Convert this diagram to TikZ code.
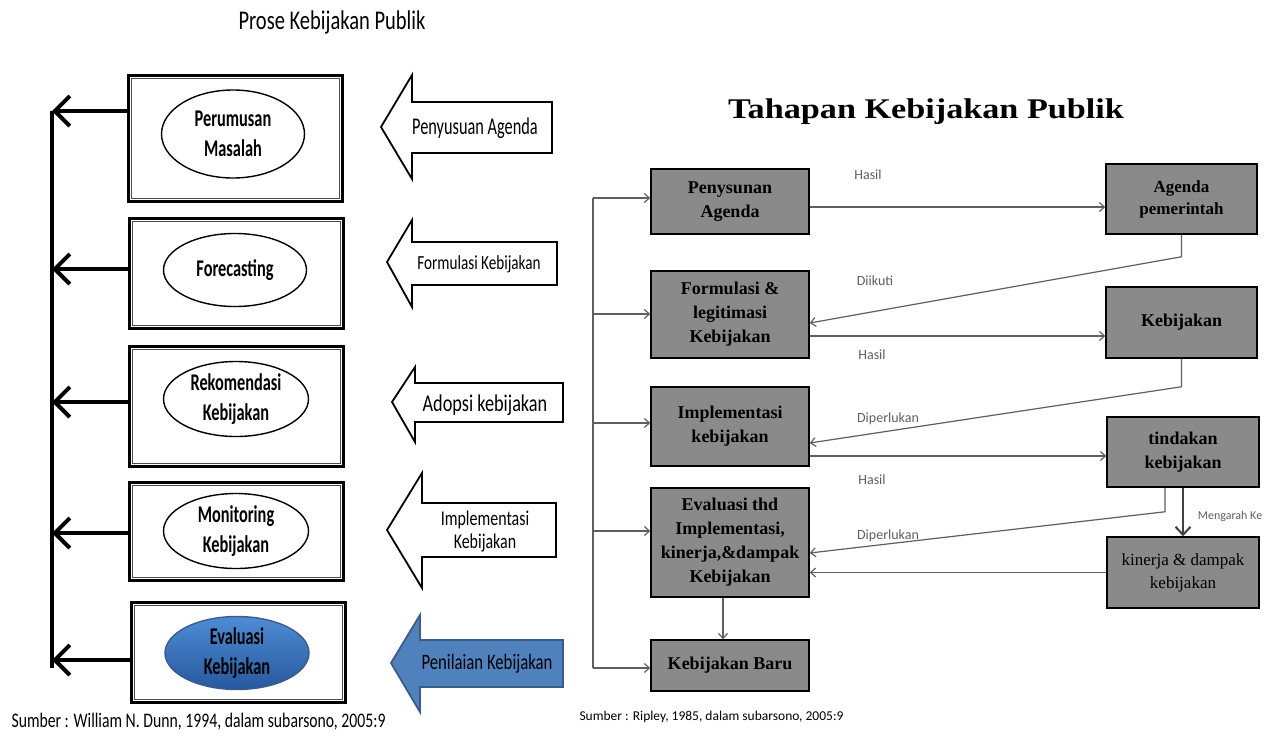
\documentclass[tikz,border=0pt]{standalone}
\usepackage{fontspec}
\setmainfont{Liberation Serif}
\newfontfamily\lsans[FakeStretch=0.76]{Carlito}
\newfontfamily\lcond[FakeStretch=0.68]{Carlito}
\newfontfamily\lsansn{Carlito}
\newfontfamily\rtitle[FakeStretch=1.2]{Liberation Serif}
\usetikzlibrary{arrows.meta,shapes.geometric,calc}
\definecolor{boxgray}{RGB}{138,138,138}
\definecolor{lgray}{RGB}{95,95,95}
\definecolor{blueA}{RGB}{79,129,189}
\definecolor{blueB}{RGB}{56,93,138}
\definecolor{blueT}{RGB}{78,140,212}
\definecolor{blueD}{RGB}{38,88,158}
\begin{document}
\begin{tikzpicture}[x=1pt,y=-1pt,
 frame/.style={draw,line width=3pt,minimum width=214pt,inner sep=0pt},
 oval/.style={ellipse,draw,line width=1.4pt,fill=white,inner sep=0pt,align=center,font=\lcond\bfseries\fontsize{24}{30}\selectfont},
 bigarr/.style={line width=3.5pt,-{Straight Barb[length=15pt,width=30pt,line width=4pt]}},
 blockarr/.style={draw,line width=1.8pt,fill=white,line join=miter},
 atext/.style={font=\lsans\fontsize{20}{22}\selectfont,align=center},
 gbox/.style={draw,line width=1.5pt,fill=boxgray,align=center,inner sep=0pt,font=\bfseries\fontsize{18}{24}\selectfont},
 conn/.style={draw=lgray,line width=1.2pt,-{Straight Barb[length=5pt,width=9pt]}},
 lbl/.style={font=\lsansn\fontsize{14}{16}\selectfont,text=lgray}
]
\useasboundingbox[fill=white] (0,0) rectangle (1268,736);

% ---------------- Left diagram ----------------
\node[font=\lsans\fontsize{27}{30}\selectfont] (t1) at (332,22) {Prose Kebijakan Publik};

\node[frame,minimum height=126pt] (b1) at (235,138) {};
\node[frame,minimum height=110pt] (b2) at (236,273) {};
\node[frame,minimum height=120pt] (b3) at (236,406) {};
\node[frame,minimum height=98pt]  (b4) at (236,531) {};
\node[frame,minimum height=100pt] (b5) at (238,652) {};
\foreach \b in {b1,b2,b3,b4,b5}{
  \draw[line width=1pt,black!70] ([shift={(4.5,4.5)}]\b.north west) rectangle ([shift={(-4.5,-4.5)}]\b.south east);
}

\node[oval,minimum width=143pt,minimum height=88pt] (e1) at (233,134) {Perumusan\\Masalah};
\node[oval,minimum width=143pt,minimum height=73pt] (e2) at (235,270) {Forecasting};
\node[oval,minimum width=145pt,minimum height=75pt] (e3) at (236,399) {Rekomendasi\\Kebijakan};
\node[oval,minimum width=145pt,minimum height=75pt] (e4) at (236,531) {Monitoring\\Kebijakan};
\node[oval,minimum width=144pt,minimum height=73pt,draw=blueB,top color=blueT,bottom color=blueD] (e5) at (237,653) {Evaluasi\\Kebijakan};

\coordinate (v1) at (52,111);
\coordinate (v2) at (52,269);
\coordinate (v3) at (52,402);
\coordinate (v4) at (52,533);
\coordinate (v5) at (52,660);
\coordinate (vb) at (52,668);
\draw[line width=3.5pt] (v1) -- (vb);
\draw[bigarr] (b1.west |- v1) -- (v1);
\draw[bigarr] (b2.west |- v2) -- (v2);
\draw[bigarr] (b3.west |- v3) -- (v3);
\draw[bigarr] (b4.west |- v4) -- (v4);
\draw[bigarr] (b5.west |- v5) -- (v5);

% block arrows
\draw[blockarr] (381,127) -- (412,75) -- (412,102) -- (552,102) -- (552,153) -- (412,153) -- (412,179) -- cycle;
\node[atext,font=\lcond\fontsize{24}{26}\selectfont] (a1) at (475,128) {Penyusuan Agenda};
\draw[blockarr] (387,262) -- (412,220) -- (412,242) -- (557,242) -- (557,285) -- (412,285) -- (412,307) -- cycle;
\node[atext] (a2) at (479,264) {Formulasi Kebijakan};
\draw[blockarr] (392,402) -- (415,367) -- (415,383) -- (563,383) -- (563,422) -- (415,422) -- (415,442) -- cycle;
\node[atext,font=\lsans\fontsize{24}{26}\selectfont] (a3) at (485,405) {Adopsi kebijakan};
\draw[blockarr] (387,530) -- (422,473) -- (422,503) -- (556,503) -- (556,557) -- (422,557) -- (422,588) -- cycle;
\node[atext,font=\lsans\fontsize{21}{23}\selectfont] (a4) at (485,532) {Implementasi\\Kebijakan};
\draw[blockarr,draw=blueB,fill=blueA] (391,663) -- (420,615) -- (420,640) -- (563,640) -- (563,687) -- (420,687) -- (420,712) -- cycle;
\node[atext,font=\lsans\fontsize{22}{24}\selectfont] (a5) at (487,664) {Penilaian Kebijakan};

\node[anchor=west,font=\lsans\fontsize{20.7}{22}\selectfont] (s1) at (8,722) {Sumber : William N. Dunn, 1994, dalam subarsono, 2005:9};

% ---------------- Right diagram ----------------
\node[font=\rtitle\bfseries\fontsize{28.5}{32}\selectfont] (t2) at (926,112) {Tahapan Kebijakan Publik};

\node[gbox,minimum width=158pt,minimum height=65pt]  (p1) at (730,201.5) {Penysunan\\Agenda};
\node[gbox,minimum width=158pt,minimum height=87pt]  (p2) at (730,314.5) {Formulasi \&\\legitimasi\\Kebijakan};
\node[gbox,minimum width=158pt,minimum height=79pt]  (p3) at (730,426.5) {Implementasi\\kebijakan};
\node[gbox,minimum width=158pt,minimum height=109pt] (p4) at (730,542.5) {Evaluasi thd\\Implementasi,\\kinerja,\&dampak\\Kebijakan};
\node[gbox,minimum width=158pt,minimum height=51pt]  (p5) at (730,665.5) {Kebijakan Baru};

\node[gbox,minimum width=151pt,minimum height=70pt,font=\bfseries\fontsize{17}{22}\selectfont] (r1) at (1181.5,199) {Agenda\\pemerintah};
\node[gbox,minimum width=151pt,minimum height=71pt] (r2) at (1181.5,322.5) {Kebijakan};
\node[gbox,minimum width=152pt,minimum height=70pt] (r3) at (1183,452) {tindakan\\kebijakan};
\node[gbox,minimum width=152pt,minimum height=71pt,font=\fontsize{17}{23}\selectfont] (r4) at (1183,572.5) {kinerja \& dampak\\kebijakan};

% left feed line
\coordinate (l1) at (593,198);
\coordinate (l2) at (593,314);
\coordinate (l3) at (593,423);
\coordinate (l4) at (593,531);
\coordinate (l5) at (593,668);
\draw[draw=lgray,line width=1.2pt] (l1) -- (l5);
\draw[conn] (l1) -- (l1 -| p1.west);
\draw[conn] (l2) -- (l2 -| p2.west);
\draw[conn] (l3) -- (l3 -| p3.west);
\draw[conn] (l4) -- (l4 -| p4.west);
\draw[conn] (l5) -- (l5 -| p5.west);

% connectors
\coordinate (h1) at ([yshift=-5.5pt]p1.east);
\draw[conn] (h1) -- (h1 -| r1.west);
\draw[conn] (r1.south) -- ++(0,22) -- ([yshift=-8.5pt]p2.east);
\coordinate (h2) at ([yshift=-21.5pt]p2.east);
\draw[conn] (h2) -- (h2 -| r2.west);
\draw[conn] (r2.south) -- ++(0,28) -- ([yshift=-16.5pt]p3.east);
\coordinate (h3) at ([yshift=-29.5pt]p3.east);
\draw[conn] (h3) -- (h3 -| r3.west);
\draw[conn] ([xshift=-18pt]r3.south) -- ++(0,24) -- ([yshift=-10.5pt]p4.east);
\draw[conn] (r4.west) -- (r4.west -| p4.east);
\draw[draw=black!75,line width=2pt,-{Straight Barb[length=8pt,width=15pt]}] (r3.south) -- (r4.north);
\draw[conn] ([xshift=-7pt]p4.south) -- ([xshift=-7pt]p5.north);

% labels
\node[lbl] (k1) at (868,175) {Hasil};
\node[lbl] (k2) at (875,281) {Diikuti};
\node[lbl] (k3) at (872,355) {Hasil};
\node[lbl] (k4) at (888,419) {Diperlukan};
\node[lbl] (k5) at (872,480) {Hasil};
\node[lbl] (k6) at (888,536) {Diperlukan};
\node[lbl,font=\lsansn\fontsize{12}{14}\selectfont] (k7) at (1230,516) {Mengarah Ke};

\node[anchor=west,font=\lsansn\fontsize{13.5}{15}\selectfont] (s2) at (576,717) {Sumber : Ripley, 1985, dalam subarsono, 2005:9};
\end{tikzpicture}
\end{document}
